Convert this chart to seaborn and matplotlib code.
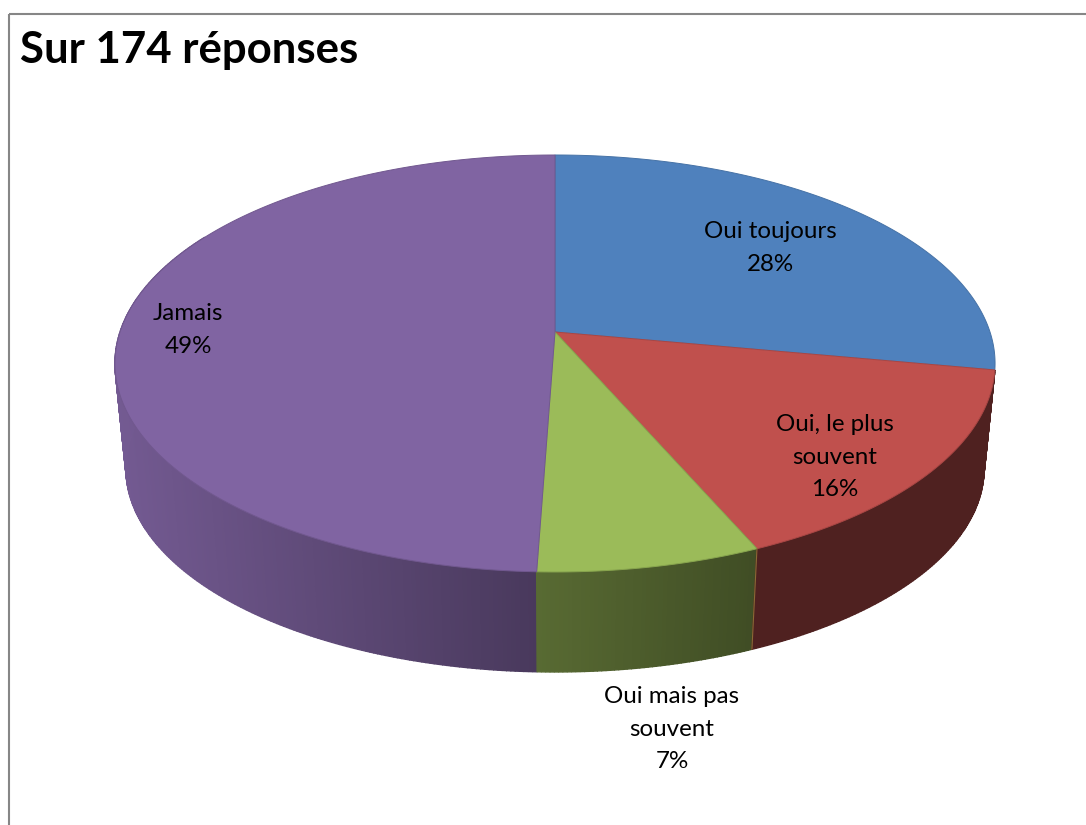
import numpy as np
import seaborn as sns
import matplotlib.pyplot as plt
from matplotlib.patches import Polygon, Rectangle

# Shares, labels are the rounded values shown on the chart
labels = ['Oui toujours', 'Oui, le plus\nsouvent', 'Oui mais pas\nsouvent', 'Jamais']
shares = [27.9, 15.55, 7.12, 49.43]
percents = ['28%', '16%', '7%', '49%']
colors = ['#4F81BD', '#C0504D', '#9BBB59', '#8064A2']
label_pos = [(770, 248), (835, 457), (672, 729), (188, 330)]


# Perspective view of a circle, angle counted clockwise from the top
def rim(deg, lower=False):
    t = np.radians(deg)
    X, Y = np.sin(t), np.cos(t)
    den = 1 + 0.151 * Y
    x = 555 + 435 * X / den
    y = (332 - 153.6 * Y) / den
    if lower:
        # bottom edge of the disc
        x = 555 + 0.975 * (x - 555)
        y = 0.975 * y + 114.3
    return x, y


def shade(color, x):
    f = np.interp(x, [125, 536, 752, 990], [0.9, 0.57, 0.41, 0.41])
    return tuple(np.array(color) * f)


sns.set_theme(style='white')
plt.rcParams['font.family'] = ['Lato', 'DejaVu Sans']
palette = sns.color_palette(colors)

fig = plt.figure(figsize=(10.86, 8.25), dpi=100)
ax = fig.add_axes([0, 0, 1, 1])
ax.set_xlim(0, 1086)
ax.set_ylim(825, 0)
ax.axis('off')

ax.add_patch(Rectangle((8.5, 13.5), 1200, 1000, fill=False, edgecolor='#868686', linewidth=1.5))

edges = 360 * np.cumsum([0] + shares) / sum(shares)

# side wall, cut into thin strips for the shading
for i in [3, 2, 1]:
    a0, a1 = edges[i], edges[i + 1]
    if i == 3:
        a1 = 300  # rest is behind the top face
    steps = np.linspace(a0, a1, int((a1 - a0) * 2) + 2)
    for s0, s1 in zip(steps[:-1], steps[1:]):
        xu0, yu0 = rim(s0)
        xu1, yu1 = rim(s1)
        xl0, yl0 = rim(s0, True)
        xl1, yl1 = rim(s1, True)
        c = shade(palette[i], (xl0 + xl1) / 2)
        ax.add_patch(Polygon([(xu0, yu0), (xu1, yu1), (xl1, yl1), (xl0, yl0)],
                             facecolor=c, edgecolor=c, linewidth=1.0))

# seam between the red and green walls
xa, ya = rim(edges[2])
xb, yb = rim(edges[2], True)
ax.plot([xa, xb], [ya, yb], color='#8A6A35', linewidth=0.8)

# top face
for i in range(4):
    angles = np.linspace(edges[i], edges[i + 1], 200)
    xs, ys = rim(angles)
    pts = [(555, 332)] + list(zip(xs, ys))
    ax.add_patch(Polygon(pts, facecolor=palette[i],
                         edgecolor=tuple(np.array(palette[i]) * 0.88), linewidth=0.7))

for name, pct, (x, y) in zip(labels, percents, label_pos):
    ax.text(x, y, name + '\n' + pct, ha='center', va='center', fontsize=17.4,
            color='black', linespacing=1.65)

ax.text(20, 50, 'Sur 174 réponses', ha='left', va='center', fontsize=31.5,
        fontweight='bold', color='black')

fig.savefig('out.png', dpi=100)
